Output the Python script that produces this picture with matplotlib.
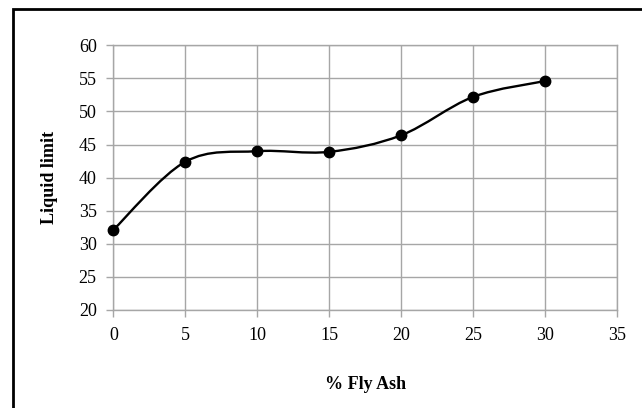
import numpy as np
import matplotlib
matplotlib.use('Agg')
import matplotlib.pyplot as plt
from matplotlib.path import Path
from matplotlib.patches import PathPatch, Rectangle

# Data
flyAsh = [0, 5, 10, 15, 20, 25, 30]
liquidLimit = [32.1, 42.4, 44.0, 43.9, 46.4, 52.2, 54.6]
xTicks = [0, 5, 10, 15, 20, 25, 30, 35]
yTicks = [20, 25, 30, 35, 40, 45, 50, 55, 60]

plt.rcParams['font.family'] = ['Liberation Serif', 'DejaVu Serif']

def smoothPath(xs, ys):
    # Excel-like smoothed line: cubic bezier with Catmull-Rom style control points
    pts = np.column_stack([xs, ys]).astype(float)
    n = len(pts)
    verts = [pts[0]]
    codes = [Path.MOVETO]
    for i in range(n - 1):
        p0 = pts[i - 1] if i > 0 else pts[i]
        p1 = pts[i]
        p2 = pts[i + 1]
        p3 = pts[i + 2] if i + 2 < n else pts[i + 1]
        c1 = p1 + (p2 - p0) / 6.0
        c2 = p2 - (p3 - p1) / 6.0
        verts += [c1, c2, p2]
        codes += [Path.CURVE4] * 3
    return Path(verts, codes)

fig = plt.figure(figsize=(6.42, 4.08), dpi=100)
ax = fig.add_axes([0.1765, 0.2402, 0.7845, 0.6488])

gridCol = '#a6a6a6'
ax.set_xlim(0, 35)
ax.set_ylim(20, 60)
ax.set_xticks(xTicks)
ax.set_yticks(yTicks)
ax.grid(True, color=gridCol, linewidth=1.0)
ax.set_axisbelow(True)
for sp in ax.spines.values():
    sp.set_color(gridCol)
    sp.set_linewidth(1.0)
ax.tick_params(direction='out', length=5, width=1.0, color=gridCol,
               labelsize=13, pad=7)

ax.add_patch(PathPatch(smoothPath(flyAsh, liquidLimit), facecolor='none',
                       edgecolor='black', linewidth=1.7, zorder=3))
ax.plot(flyAsh, liquidLimit, linestyle='none', marker='o', markersize=7.5,
        color='black', zorder=4, clip_on=False)

ax.set_xlabel('% Fly Ash', fontsize=13, fontweight='bold', labelpad=23)
ax.set_ylabel('Liquid limit', fontsize=13, fontweight='bold', labelpad=15)

# outer chart frame (right and bottom edges fall outside the image)
fig.patches.append(Rectangle((13 / 642, -0.05), 1.1, 1 - 9 / 408 + 0.05,
                             transform=fig.transFigure, fill=False,
                             edgecolor='black', linewidth=2.0))

fig.savefig('out.png', dpi=100)
